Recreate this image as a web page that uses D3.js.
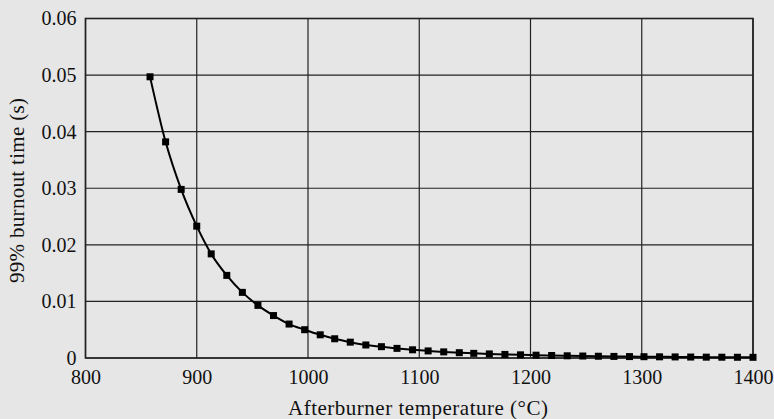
<!DOCTYPE html>
<html>
<head>
<meta charset="utf-8">
<script src="https://cdn.jsdelivr.net/npm/d3@7"></script>
<style>
  html, body { margin: 0; padding: 0; background: #e6e6e6; }
  svg { display: block; }
  text { font-family: "Liberation Serif", "DejaVu Serif", serif; fill: #111; }
</style>
</head>
<body>
<svg id="chart" width="774" height="419"></svg>
<script>
// Data
const temperatures = [858, 872, 886, 900, 913, 927, 941, 955, 969, 983,
  997, 1011, 1024, 1038, 1052, 1066, 1080, 1094, 1108, 1122,
  1136, 1149, 1163, 1177, 1191, 1205, 1219, 1233, 1247, 1261,
  1275, 1289, 1302, 1316, 1330, 1344, 1358, 1372, 1386, 1400];
const burnoutTimes = [0.0497, 0.0382, 0.0298, 0.0233, 0.0184, 0.0146, 0.0116, 0.0093, 0.0075, 0.0060,
  0.0050, 0.0041, 0.0034, 0.0028, 0.0023, 0.0020, 0.0017, 0.00145, 0.00125, 0.00108,
  0.00094, 0.00082, 0.00072, 0.00063, 0.00056, 0.00050, 0.00044, 0.00039, 0.00035, 0.00031,
  0.00028, 0.00025, 0.00023, 0.00021, 0.00019, 0.00017, 0.00015, 0.00014, 0.00013, 0.00012];
const xTicks = [800, 900, 1000, 1100, 1200, 1300, 1400];
const yTicks = [0, 0.01, 0.02, 0.03, 0.04, 0.05, 0.06];
const yTickLabels = ["0", "0.01", "0.02", "0.03", "0.04", "0.05", "0.06"];
const xTitle = "Afterburner temperature (°C)";
const yTitle = "99% burnout time (s)";

const svg = d3.select("#chart");
const mLeft = 85.5, mRight = 753, mTop = 18.5, mBottom = 358;

const x = d3.scaleLinear().domain([800, 1400]).range([mLeft, mRight]);
const y = d3.scaleLinear().domain([0, 0.06]).range([mBottom, mTop]);

// Grid
const grid = svg.append("g");
grid.selectAll("line.v").data(xTicks).join("line")
  .attr("x1", d => x(d)).attr("x2", d => x(d))
  .attr("y1", mTop).attr("y2", mBottom)
  .attr("stroke", "#222").attr("stroke-width", 1.2);
grid.selectAll("line.h").data(yTicks).join("line")
  .attr("y1", d => y(d)).attr("y2", d => y(d))
  .attr("x1", mLeft).attr("x2", mRight)
  .attr("stroke", "#222").attr("stroke-width", 1.2);

// Frame
svg.append("rect").attr("x", mLeft).attr("y", mTop)
  .attr("width", mRight - mLeft).attr("height", mBottom - mTop)
  .attr("fill", "none").attr("stroke", "#222").attr("stroke-width", 1.6);

// Axes (labels only)
const fam = '"Liberation Serif", "DejaVu Serif", serif';
const xAxis = d3.axisBottom(x).tickValues(xTicks).tickSize(0).tickPadding(12).tickFormat(d3.format("d"));
const gx = svg.append("g").attr("transform", `translate(0,${mBottom})`).call(xAxis);
gx.select(".domain").remove();
gx.selectAll("text").style("font-size", "20px").attr("fill", "#111").style("font-family", fam);

const yAxis = d3.axisLeft(y).tickValues(yTicks).tickSize(0).tickPadding(9)
  .tickFormat((d, i) => yTickLabels[i]);
const gy = svg.append("g").attr("transform", `translate(${mLeft},0)`).call(yAxis);
gy.select(".domain").remove();
gy.selectAll("text").style("font-size", "20px").attr("fill", "#111").style("font-family", fam);

// Line
const pts = temperatures.map((t, i) => [t, burnoutTimes[i]]);
const line = d3.line().x(d => x(d[0])).y(d => y(d[1])).curve(d3.curveMonotoneX);
svg.append("path").datum(pts).attr("d", line)
  .attr("fill", "none").attr("stroke", "#000").attr("stroke-width", 2);

// Markers
const ms = 7;
svg.append("g").selectAll("rect").data(pts).join("rect")
  .attr("x", d => x(d[0]) - ms / 2).attr("y", d => y(d[1]) - ms / 2)
  .attr("width", ms).attr("height", ms).attr("fill", "#000");

// Titles
svg.append("text").attr("x", 418).attr("y", 415)
  .attr("text-anchor", "middle").style("font-size", "21px")
  .attr("textLength", 260).attr("lengthAdjust", "spacing").text(xTitle);
svg.append("text").attr("transform", `translate(24,190.5) rotate(-90)`)
  .attr("text-anchor", "middle").style("font-size", "21px")
  .attr("textLength", 185).attr("lengthAdjust", "spacing").text(yTitle);
</script>
</body>
</html>
